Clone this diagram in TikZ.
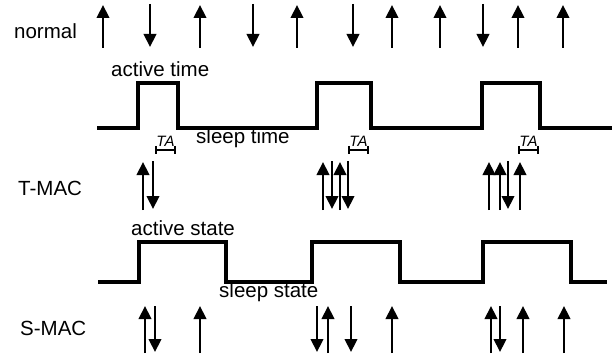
\documentclass[tikz,border=0pt]{standalone}
\usepackage{fontspec}
\setmainfont{Liberation Sans}
\usetikzlibrary{arrows.meta}
\begin{document}
\begin{tikzpicture}[x=1pt,y=-1pt,
  wave/.style={line width=3.2pt,line join=miter},
  sig/.style={line width=2.2pt,-{Triangle[width=12.5pt,length=13pt]}},
  lbl/.style={anchor=base west,inner sep=0pt,font=\fontsize{20.5}{24}\selectfont},
  talbl/.style={anchor=south,inner sep=0pt,font=\fontsize{15}{17}\selectfont\itshape},
  tabr/.style={line width=1.1pt}]
\useasboundingbox (0,0) rectangle (612,358);
% row labels
\node[lbl] (lnormal) at (14,39) {normal};
\node[lbl] (ltmac) at (18,195) {T-MAC};
\node[lbl] (lsmac) at (20,335) {S-MAC};
% normal arrows
\foreach \x in {103,200,297,392,440,518,563} \draw[sig] (\x,48) -- (\x,5);
\foreach \x in {150,253,353,483} \draw[sig] (\x,4) -- (\x,47);
% T-MAC waveform
\draw[wave] (97,128) -- (138,128) -- (138,83) -- (178,83) -- (178,128) -- (317,128) -- (317,83) -- (371,83) -- (371,128) -- (482,128) -- (482,83) -- (540,83) -- (540,128) -- (612,128);
\node[lbl] (lat) at (111,77) {active time};
\node[lbl] (lst) at (196,144) {sleep time};
% TA brackets
\foreach \a/\b in {156/175,349/368,519/538}{
  \draw[tabr] (\a,146) -- (\a,154) (\a,150) -- (\b,150) (\b,146) -- (\b,154);
  \node[talbl] at ({(\a+\b)/2},146.5) {TA};
}
% T-MAC arrows
\foreach \x in {143,323,340,489,500,520} \draw[sig] (\x,210) -- (\x,162);
\foreach \x in {153,332,348,508} \draw[sig] (\x,161) -- (\x,209);
% S-MAC waveform
\draw[wave] (98,282) -- (139,282) -- (139,242) -- (226,242) -- (226,282) -- (312,282) -- (312,242) -- (400,242) -- (400,282) -- (483,282) -- (483,242) -- (571,242) -- (571,282) -- (607,282);
\node[lbl] (las) at (131,235) {active state};
\node[lbl] (lss) at (219,297) {sleep state};
% S-MAC arrows
\foreach \x in {145,200,328,392,491,523,564} \draw[sig] (\x,353) -- (\x,306);
\foreach \x in {155,317,351,500} \draw[sig] (\x,306) -- (\x,352);
\end{tikzpicture}
\end{document}
